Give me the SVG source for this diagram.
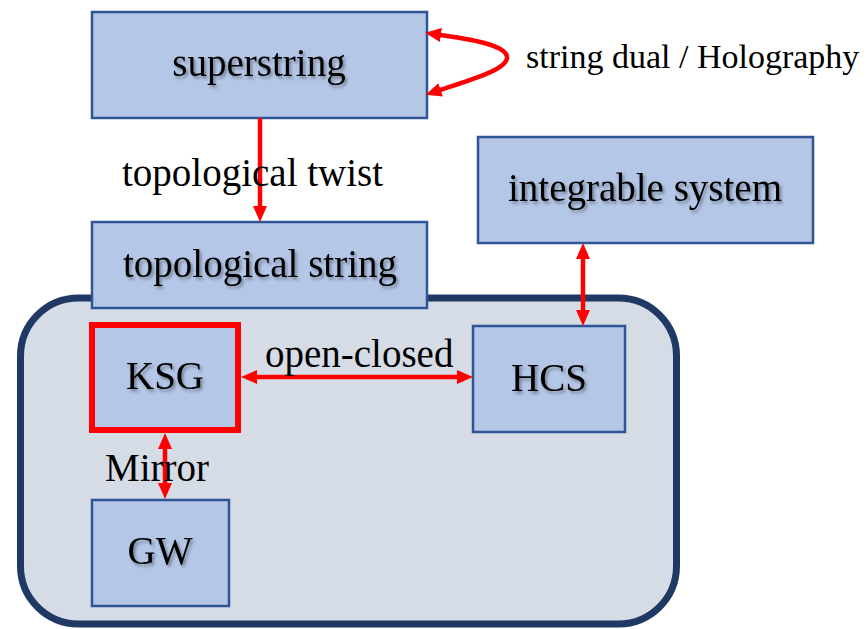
<svg xmlns="http://www.w3.org/2000/svg" width="868" height="629" viewBox="0 0 868 629">
<style>
.box{fill:#b4c7e7;stroke:#2f5597;stroke-width:2.5}
.t{font-family:"Liberation Serif","Times New Roman",serif;font-size:39px;fill:#000}
.c{text-anchor:middle}
.sh{filter:url(#shadow)}
.conn{fill:none;stroke:#ff0000;stroke-width:4.5}
</style>
<defs>
<filter id="shadow" x="-10%" y="-30%" width="130%" height="170%">
<feDropShadow dx="2" dy="2.5" stdDeviation="1.5" flood-color="#000" flood-opacity="0.35"/>
</filter>
<marker id="ah" markerUnits="userSpaceOnUse" markerWidth="16" markerHeight="14" refX="7" refY="7" orient="auto-start-reverse" viewBox="0 0 16 14">
<path d="M0,0 L16,7 L0,14 z" fill="#ff0000"/>
</marker>
</defs>
<rect id="container" x="20.5" y="298" width="656" height="326" rx="58" ry="58" fill="#d6dce5" stroke="#1f3864" stroke-width="7"/>
<g id="superstring"><rect class="box" x="92" y="12" width="335" height="106"/><text class="t c sh" x="259" y="76">superstring</text></g>
<g id="topological-string"><rect class="box" x="92" y="222" width="335" height="86"/><text class="t c sh" x="260" y="277">topological string</text></g>
<g id="integrable-system"><rect class="box" x="478" y="137" width="335" height="106"/><text class="t c sh" x="645" y="201">integrable system</text></g>
<g id="KSG"><rect x="92" y="325" width="146" height="105" fill="#b4c7e7" stroke="#ff0000" stroke-width="6"/><text class="t c sh" x="165" y="389">KSG</text></g>
<g id="HCS"><rect class="box" x="473" y="326" width="152" height="106"/><text class="t c sh" x="549" y="391">HCS</text></g>
<g id="GW"><rect class="box" x="92" y="500" width="137" height="106"/><text class="t c sh" x="160" y="564">GW</text></g>
<g id="connectors">
<path class="conn" d="M434,34 C470,39 508,45 507,58 C506,70 470,80 434,92" marker-start="url(#ah)" marker-end="url(#ah)"/>
<path class="conn" d="M260,118 L260,213" marker-end="url(#ah)"/>
<path class="conn" d="M583,252 L583,317" marker-start="url(#ah)" marker-end="url(#ah)"/>
<path class="conn" d="M250,377 L464,377" marker-start="url(#ah)" marker-end="url(#ah)"/>
<path class="conn" d="M165,442 L165,490" marker-start="url(#ah)" marker-end="url(#ah)"/>
</g>
<g id="labels">
<text class="t" x="526" y="68" style="font-size:34px">string dual / Holography</text>
<text class="t" x="122" y="186">topological twist</text>
<text class="t" x="265" y="367">open-closed</text>
<text class="t" x="105" y="481">Mirror</text>
</g>
</svg>
